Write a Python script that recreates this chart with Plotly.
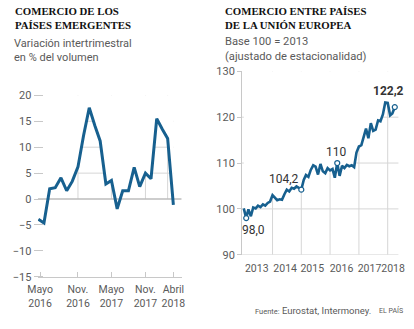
import plotly.graph_objects as go

# ---------------- data ----------------
# Left: Comercio de los países emergentes (variación intertrimestral, %)
em_months = ["2016-04", "2016-05", "2016-06", "2016-07", "2016-08", "2016-09", "2016-10",
             "2016-11", "2016-12", "2017-01", "2017-02", "2017-03", "2017-04", "2017-05",
             "2017-06", "2017-07", "2017-08", "2017-09", "2017-10", "2017-11", "2017-12",
             "2018-01", "2018-02", "2018-03", "2018-04"]
em_values = [-3.9, -4.6, 2.0, 2.2, 4.1, 1.6, 3.4, 6.2, 12.2, 17.6, 14.1, 11.2, 2.9, 3.6,
             -1.9, 1.6, 1.6, 6.1, 2.4, 5.0, 3.9, 15.5, 13.4, 11.7, -1.1]
em_tickvals = ["2016-04-10", "2016-11-01", "2017-05-01", "2017-11-01", "2018-04-01"]
em_ticktext = ["Mayo<br>2016", "Nov.<br>2016", "Mayo<br>2017", "Nov.<br>2017", "Abril<br>2018"]
em_yticks = [-15, -10, -5, 0, 5, 10, 15, 20]
em_grid_y = [5, 10, 15]
em_grid_x = ["2016-11-01", "2017-05-01", "2017-11-01", "2018-03-01"]

# Right: Comercio entre países de la UE (Base 100 = 2013)
eu_months = [f"{y}-{m:02d}" for y in range(2013, 2019) for m in range(1, 13)][:64]
eu_values = [
    100.1, 98.0, 99.9, 98.4, 100.3, 100.1, 100.7, 100.4, 101.0, 100.7, 101.3, 101.6,
    103.0, 102.4, 101.9, 102.1, 102.0, 103.2, 104.2, 103.8, 104.6, 104.4, 104.9, 104.6,
    104.2, 106.3, 107.4, 107.0, 108.5, 109.5, 109.2, 107.5, 109.8, 108.2, 107.8, 108.9,
    108.4, 108.7, 106.8, 110.0, 107.2, 109.4, 108.9, 109.6, 109.3, 109.5, 109.1, 112.3,
    113.6, 113.9, 115.5, 117.5, 115.4, 118.7, 117.0, 117.3, 119.3, 119.1, 120.6, 123.2,
    123.1, 120.4, 120.8, 122.2,
]
eu_highlight_idx = [1, 24, 39, 63]
eu_highlight_txt = ["98,0", "104,2", "110", "122,2"]
eu_tickvals = ["2013-06-15", "2014-06-10", "2015-05-20", "2016-05-25", "2017-05-15", "2018-03-10"]
eu_ticktext = ["2013", "2014", "2015", "2016", "2017", "2018"]
eu_yticks = [90, 100, 110, 120, 130]
eu_grid_y = [90, 100, 110, 120]
eu_grid_x = ["2014-01-01", "2015-01-01", "2016-01-01", "2017-01-01", "2018-01-01"]

assert len(em_months) == len(em_values)
assert len(eu_months) == len(eu_values)

# ---------------- styling ----------------
W, H = 414, 329
BLUE = "#17608f"
GRID = "#d6d6d6"
AXIS = "#c8c8c8"
TXT = "#5a5a5a"
SANS = "Roboto"
SERIF = "Liberation Serif"
EM_RANGE = ["2016-03-29", "2018-05-16"]
EM_YR = [-15, 20]
EU_RANGE = ["2012-12-11", "2018-05-17"]
EU_YR = [90, 130]


def px(x):
    return x / W


def py(y):
    return 1 - y / H


fig = go.Figure()

# ---- left chart ----
fig.add_trace(go.Scatter(x=em_months, y=[EM_YR[1]] * len(em_months), mode="lines",
                         line=dict(width=0), hoverinfo="skip", showlegend=False,
                         xaxis="x", yaxis="y"))
fig.add_trace(go.Scatter(x=em_months, y=em_values, mode="lines", line=dict(width=0),
                         fill="tonexty", fillcolor="white", hoverinfo="skip",
                         showlegend=False, xaxis="x", yaxis="y"))
fig.add_trace(go.Scatter(x=EM_RANGE, y=[0, 0], mode="lines",
                         line=dict(color="#bdbdbd", width=1.5), hoverinfo="skip",
                         showlegend=False, xaxis="x", yaxis="y"))
fig.add_trace(go.Scatter(x=em_months, y=em_values, mode="lines",
                         line=dict(color=BLUE, width=3), showlegend=False,
                         xaxis="x", yaxis="y"))

# ---- right chart ----
fig.add_trace(go.Scatter(x=eu_months, y=[EU_YR[1]] * len(eu_months), mode="lines",
                         line=dict(width=0), hoverinfo="skip", showlegend=False,
                         xaxis="x2", yaxis="y2"))
fig.add_trace(go.Scatter(x=eu_months, y=eu_values, mode="lines", line=dict(width=0),
                         fill="tonexty", fillcolor="white", hoverinfo="skip",
                         showlegend=False, xaxis="x2", yaxis="y2"))
fig.add_trace(go.Scatter(x=eu_months, y=eu_values, mode="lines",
                         line=dict(color=BLUE, width=2.6), showlegend=False,
                         xaxis="x2", yaxis="y2"))
hx = [eu_months[i] for i in eu_highlight_idx]
hy = [eu_values[i] for i in eu_highlight_idx]
fig.add_trace(go.Scatter(x=hx, y=hy, mode="markers",
                         marker=dict(size=5, color="white", line=dict(color=BLUE, width=1.2)),
                         showlegend=False, xaxis="x2", yaxis="y2"))

# ---- gridlines (below traces, masked by white fill above the curve) ----
shapes = []
for g in em_grid_y:
    shapes.append(dict(type="line", xref="x", yref="y", x0=em_months[0], x1=em_months[-1],
                       y0=g, y1=g, line=dict(color=GRID, width=1), layer="below"))
for g in em_grid_x:
    shapes.append(dict(type="line", xref="x", yref="y", x0=g, x1=g, y0=0, y1=EM_YR[1],
                       line=dict(color=GRID, width=1), layer="below"))
for g in eu_grid_y:
    shapes.append(dict(type="line", xref="x2 domain", yref="y2", x0=0, x1=1,
                       y0=g, y1=g, line=dict(color=GRID, width=1), layer="below"))
for g in eu_grid_x:
    shapes.append(dict(type="line", xref="x2", yref="y2", x0=g, x1=g, y0=EU_YR[0],
                       y1=EU_YR[1], line=dict(color=GRID, width=1), layer="below"))

# ---- annotations ----
ann = []
ann.append(dict(text="<b>COMERCIO DE LOS<br>PAÍSES EMERGENTES</b>", x=px(2), y=1,
                yshift=3,
                xref="paper", yref="paper", xanchor="left", yanchor="top", showarrow=False,
                align="left", font=dict(family=SERIF, size=10.8, color="#111")))
ann.append(dict(text="Variación intertrimestral<br>en % del volumen", x=px(1), y=py(30),
                xref="paper", yref="paper", xanchor="left", yanchor="top", showarrow=False,
                align="left", font=dict(family=SANS, size=11, color=TXT)))
ann.append(dict(text="<b>COMERCIO ENTRE PAÍSES<br>DE LA UNIÓN EUROPEA</b>", x=px(221),
                y=1, yshift=3, xref="paper", yref="paper", xanchor="left", yanchor="top",
                showarrow=False, align="left", font=dict(family=SERIF, size=10.8, color="#111")))
ann.append(dict(text="Base 100 = 2013<br>(ajustado de estacionalidad)", x=px(221), y=py(28),
                xref="paper", yref="paper", xanchor="left", yanchor="top", showarrow=False,
                align="left", font=dict(family=SANS, size=11.2, color=TXT)))

shifts = [(7, -12), (-17, 11), (-1, 11), (-6, 16)]
for i, (idx, t) in enumerate(zip(eu_highlight_idx, eu_highlight_txt)):
    bold = i == len(eu_highlight_idx) - 1
    ann.append(dict(text=f"<b>{t}</b>" if bold else t, x=eu_months[idx], y=eu_values[idx],
                    xref="x2", yref="y2", showarrow=False, xshift=shifts[i][0],
                    yshift=shifts[i][1],
                    font=dict(family=SANS, size=12, color="#333")))

ann.append(dict(text="<span style='font-size:7.5px'>Fuente:</span> Eurostat, Intermoney.",
                x=px(252), y=py(317), xref="paper", yref="paper", xanchor="left",
                yanchor="middle", showarrow=False, font=dict(family=SANS, size=9.5, color=TXT)))
ann.append(dict(text="EL PAÍS", x=px(411), y=py(317), xref="paper", yref="paper",
                xanchor="right", yanchor="middle", showarrow=False,
                font=dict(family=SANS, size=7, color=TXT)))

fig.update_layout(
    width=W, height=H, margin=dict(l=0, r=0, t=0, b=0),
    paper_bgcolor="white", plot_bgcolor="white", showlegend=False,
    shapes=shapes, annotations=ann,
    xaxis=dict(domain=[px(28), px(178)], range=EM_RANGE, type="date", anchor="y",
               showgrid=False, zeroline=False, showline=True, linecolor=AXIS, linewidth=1,
               ticks="inside", ticklen=5, tickcolor=AXIS, tickvals=em_tickvals,
               ticktext=em_ticktext, tickangle=0, ticklabelstandoff=3,
               tickfont=dict(family=SANS, size=10.5, color=TXT), fixedrange=True),
    yaxis=dict(domain=[py(282), py(93)], range=EM_YR, anchor="free", position=px(33),
               showgrid=False, zeroline=False, showline=False, ticks="outside",
               ticklen=9, tickcolor=AXIS, tickvals=em_yticks,
               tickfont=dict(family=SANS, size=11, color=TXT), fixedrange=True),
    xaxis2=dict(domain=[px(241), px(404)], range=EU_RANGE, type="date", anchor="y2",
                showgrid=False, zeroline=False, showline=False, ticks="",
                tickvals=eu_tickvals, ticktext=eu_ticktext, tickangle=0,
                ticklabelstandoff=6,
                tickfont=dict(family=SANS, size=10.5, color=TXT), fixedrange=True),
    yaxis2=dict(domain=[py(259), py(68)], range=EU_YR, anchor="x2", showgrid=False,
                zeroline=False, showline=True, linecolor=AXIS, linewidth=1,
                ticks="outside", ticklen=4, tickcolor=AXIS, tickvals=eu_yticks,
                tickfont=dict(family=SANS, size=11, color=TXT), fixedrange=True),
)

fig.write_html("out.html", config={"displayModeBar": False})
